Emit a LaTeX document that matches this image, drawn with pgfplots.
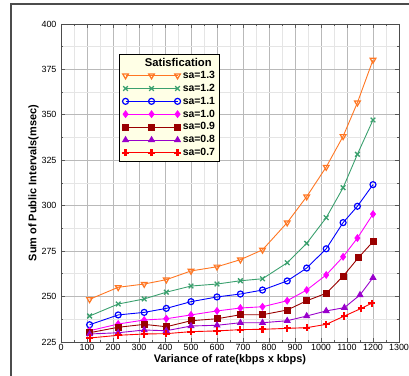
\documentclass[border=0pt]{standalone}
\usepackage{fontspec}
\setmainfont{Liberation Sans}
\usepackage{pgfplots}
\pgfplotsset{compat=1.18}
\definecolor{corange}{RGB}{255,118,34}
\definecolor{cgreen}{RGB}{58,160,110}
\definecolor{cblue}{RGB}{0,0,255}
\definecolor{cmag}{RGB}{255,0,255}
\definecolor{cdred}{RGB}{153,0,0}
\definecolor{cpurp}{RGB}{153,0,204}
\definecolor{cred}{RGB}{255,0,0}
\definecolor{legfill}{RGB}{255,255,230}
\begin{document}
\begin{tikzpicture}
\path[use as bounding box] (0,0) rectangle (409bp,376bp);
\draw[gray!60!black, line width=1.2pt] (11bp,0) -- (11bp,372bp) -- (409bp,372bp);
\begin{axis}[
  at={(61bp,34bp)}, anchor=south west,
  scale only axis, width=338bp, height=318bp,
  xmin=0, xmax=1300, ymin=225, ymax=400,
  xtick={0,100,...,1300}, ytick={225,250,...,400},
  minor x tick num=1, minor y tick num=1,
  grid=both,
  major grid style={gray!55, line width=0.8pt},
  minor grid style={gray!20, line width=0.8pt},
  tick style={gray!70!black, line width=0.8pt},
  major tick length=4bp, minor tick length=2bp,
  tick align=inside,
  axis line style={gray!60!black, line width=0.8pt},
  /pgf/number format/assume math mode=true,
  /pgf/number format/1000 sep={},
  tick label style={font=\fontsize{9}{10}\selectfont},
  xticklabel style={yshift=1bp},
  yticklabel style={xshift=-1bp},
  xlabel={\textbf{Variance of rate(kbps x kbps)}},
  ylabel={\textbf{Sum of Public Intervals(msec)}},
  label style={font=\fontsize{11}{12}\selectfont},
  xlabel style={yshift=3bp},
  ylabel style={yshift=-4bp},
  legend image code/.code={\draw[#1] plot coordinates {(0bp,0bp) (26bp,0bp) (52bp,0bp)};},
  legend cell align=left,
  legend style={at={(0.1716,0.906)}, anchor=north west, fill=legfill, draw=black, line width=0.9pt,
    font=\bfseries\fontsize{10.5}{12}\selectfont, row sep=0.9bp, inner sep=2.5bp,
    /tikz/every even column/.append style={column sep=4bp},
    nodes={inner sep=1.6bp}},
  every axis plot/.append style={line width=0.9pt, mark size=3bp},
]
\addlegendimage{empty legend}
\addlegendentry{\hspace*{-38bp}\raisebox{-1bp}{\fontsize{11.3}{12}\selectfont Satisfication}}
\addplot[color=corange, mark=triangle, mark options={rotate=180, line width=1.2pt, mark size=3.3bp}] coordinates {
(110,248.5)(220,255.1)(320,256.9)(405,259.3)(500,264.1)(600,266.4)(690,270.3)(775,275.7)(870,290.7)(945,305)(1020,321.3)(1085,338.2)(1140,356.7)(1200,380.2)};
\addlegendentry{sa=1.3}
\addplot[color=cgreen, mark=x, mark options={line width=1.3pt, mark size=3.3bp}] coordinates {
(110,239.3)(220,245.9)(320,248.7)(405,252.4)(500,255.8)(600,256.9)(690,258.7)(775,259.8)(870,268.6)(945,279.3)(1020,293.4)(1085,309.9)(1140,328.3)(1200,347.2)};
\addlegendentry{sa=1.2}
\addplot[color=cblue, mark=o, mark options={line width=1.2pt}] coordinates {
(110,234.5)(220,239.9)(320,241.3)(405,243.5)(500,247.2)(600,249.8)(690,251.4)(775,253.6)(870,258.6)(945,265.7)(1020,276.3)(1085,290.7)(1140,299.7)(1200,311.6)};
\addlegendentry{sa=1.1}
\addplot[color=cmag, mark=diamond*, mark options={fill=cmag, mark size=3.3bp}] coordinates {
(110,231.2)(220,234.9)(320,237.1)(405,237.8)(500,239.9)(600,242.1)(690,243.7)(775,244.4)(870,247.7)(945,253.6)(1020,261.9)(1085,271.9)(1140,282.2)(1200,295.4)};
\addlegendentry{sa=1.0}
\addplot[color=cdred, mark=square*, mark options={fill=cdred, mark size=3bp}] coordinates {
(110,230.1)(220,233.1)(320,234.7)(405,233.4)(500,236.7)(600,237.8)(690,240)(775,240)(870,242.6)(945,247.7)(1020,251.8)(1085,261.2)(1145,271.6)(1200,280.2)};
\addlegendentry{sa=0.9}
\addplot[color=cpurp, mark=triangle*, mark options={fill=cpurp, mark size=3.3bp}] coordinates {
(110,229.4)(220,230.1)(320,231.6)(405,231.2)(500,233.8)(600,234.2)(690,235.6)(775,235.6)(870,236.7)(945,239.3)(1020,242.1)(1090,243.9)(1150,250.9)(1200,260.4)};
\addlegendentry{sa=0.8}
\addplot[color=cred, mark=+, mark options={line width=2.2pt, mark size=3.6bp}] coordinates {
(110,227.2)(220,228.7)(320,229.4)(405,229.6)(500,230.7)(600,231.1)(690,231.8)(775,232)(870,232.5)(945,232.9)(1020,234.7)(1090,239.3)(1155,243.5)(1195,246.3)};
\addlegendentry{sa=0.7}
\end{axis}
\end{tikzpicture}
\end{document}
